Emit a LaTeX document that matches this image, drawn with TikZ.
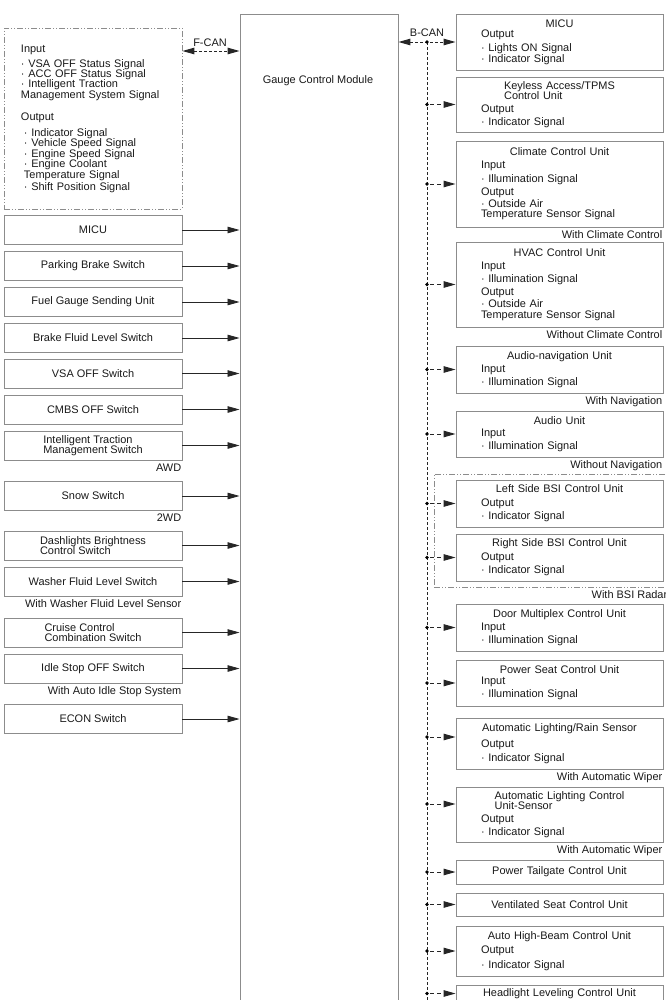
\documentclass[tikz,border=0pt]{standalone}
\usepackage{fontspec}
\setmainfont{Liberation Sans}
\usepackage{calc}
\usetikzlibrary{arrows.meta}

\newcommand\diagfont{\fontsize{11}{10.5}\selectfont}
\newcommand\ttl[2][2.5bp]{{\centering #2\par}\vspace{#1}}
\newcommand\ttltwo[2]{{\centering #1\\\makebox[\widthof{#1}][l]{#2}\par}\vspace{2.5bp}}

\begin{document}
\begin{tikzpicture}[x=1bp,y=-1bp,>={Triangle[length=12bp,width=6.5bp]},
  font=\diagfont,text=black!90,
  box/.style={draw=black!45,line width=0.9bp},
  lbox/.style={box,minimum width=178bp,minimum height=29bp,inner sep=1bp,align=left},
  rbox/.style={box,minimum width=207bp,text width=157bp,inner xsep=25bp,inner ysep=1bp,align=left},
  grpbox/.style={draw=black!45,line width=0.8bp,dash pattern=on 6bp off 2bp on 1bp off 2bp on 1bp off 2bp},
  cond/.style={anchor=north east,inner sep=1bp,yshift=-2bp},
  sig/.style={->,draw=black!85,line width=0.8bp},
  can/.style={<->,draw=black!85,line width=1bp,dash pattern=on 3bp off 2bp},
  bus/.style={draw=black!85,line width=1bp,dash pattern=on 3bp off 2bp},
  tap/.style={->,draw=black!85,line width=1bp,dash pattern=on 4bp off 3bp,dash phase=-3bp}]
  \useasboundingbox (0,0) rectangle (666,1000);
  \clip (0,0) rectangle (666,1000);

  \node[box,minimum width=158bp,minimum height=1100bp,anchor=north] (gcm) at (319,14) {};
  \node (gcmlbl) at (318,81) {Gauge Control Module};

  % F-CAN side
  \node[grpbox,minimum width=178bp,minimum height=181bp,text width=144bp,inner xsep=17bp,align=left] (fcanecu) at (93,118.5) {%
    Input\\[4.5bp]
    · VSA OFF Status Signal\\
    · ACC OFF Status Signal\\
    · Intelligent Traction\\
    Management System Signal\\[11.5bp]
    Output\\[5.5bp]
    \hspace*{3bp}· Indicator Signal\\
    \hspace*{3bp}· Vehicle Speed Signal\\
    \hspace*{3bp}· Engine Speed Signal\\
    \hspace*{3bp}· Engine Coolant\\
    \hspace*{3bp}Temperature Signal\\[1.5bp]
    \hspace*{3bp}· Shift Position Signal};
  \coordinate (fc) at (211,51);
  \draw[can] (fc -| fcanecu.east) -- (fc -| gcm.west);
  \node (fcanlbl) at (210,43) {F-CAN};

  % inputs on the left
  \node[lbox] (micu)   at (93,230)   {MICU};
  \node[lbox] (park)   at (93,266)   {Parking Brake Switch};
  \node[lbox] (fuel)   at (93,302)   {Fuel Gauge Sending Unit};
  \node[lbox] (brake)  at (93,338)   {Brake Fluid Level Switch};
  \node[lbox] (vsa)    at (93,373.5) {VSA OFF Switch};
  \node[lbox] (cmbs)   at (93,409.5) {CMBS OFF Switch};
  \node[lbox] (itm)    at (93,445.5) {Intelligent Traction\\Management Switch};
  \node[lbox] (snow)   at (93,496)   {Snow Switch};
  \node[lbox] (dimmer) at (93,545.5) {Dashlights Brightness\\Control Switch};
  \node[lbox] (washer) at (93,581.5) {Washer Fluid Level Switch};
  \node[lbox] (cruise) at (93,632.5) {Cruise Control\\Combination Switch};
  \node[lbox] (idle)   at (93,668.5) {Idle Stop OFF Switch};
  \node[lbox] (econ)   at (93,719)   {ECON Switch};
  \foreach \n in {micu,park,fuel,brake,vsa,cmbs,itm,snow,dimmer,washer,cruise,idle,econ}
    \draw[sig] (\n.east) -- (\n.east -| gcm.west);

  \node[cond] (awd)      at (itm.south east)    {AWD};
  \node[cond] (twowd)    at (snow.south east)   {2WD};
  \node[cond] (washcond) at (washer.south east) {With Washer Fluid Level Sensor};
  \node[cond] (idlecond) at (idle.south east)   {With Auto Idle Stop System};

  % B-CAN side
  \node[rbox,minimum height=56bp] (rmicu) at (559.5,42) {\ttl[0bp]{MICU}Output\\[4bp]· Lights ON Signal\\· Indicator Signal};
  \node[rbox,minimum height=55bp] (keyless) at (559.5,104.5) {\ttltwo{Keyless Access/TPMS}{Control Unit}Output\\[2.5bp]· Indicator Signal};
  \node[rbox,minimum height=86bp] (climate) at (559.5,184) {\ttl{Climate Control Unit}Input\\[3bp]· Illumination Signal\\[2.5bp]Output\\[1.5bp]· Outside Air\\Temperature Sensor Signal};
  \node[rbox,minimum height=85bp] (hvac) at (559.5,284.5) {\ttl{HVAC Control Unit}Input\\[3bp]· Illumination Signal\\[2.5bp]Output\\[1.5bp]· Outside Air\\Temperature Sensor Signal};
  \node[rbox,minimum height=47bp] (audnav) at (559.5,369.5) {\ttl{Audio-navigation Unit}Input\\[3bp]· Illumination Signal};
  \node[rbox,minimum height=46bp] (audio) at (559.5,434) {\ttl[1.5bp]{Audio Unit}Input\\[3bp]· Illumination Signal};
  \node[grpbox,minimum width=234bp,minimum height=113bp] (bsigrp) at (551,530.5) {};
  \node[rbox,minimum height=47bp] (lbsi) at (559.5,503.5) {\ttl[3bp]{Left Side BSI Control Unit}Output\\[3bp]· Indicator Signal};
  \node[rbox,minimum height=47bp] (rbsi) at (559.5,557.5) {\ttl[3bp]{Right Side BSI Control Unit}Output\\[3bp]· Indicator Signal};
  \node[rbox,minimum height=47bp] (door) at (559.5,627.5) {\ttl{Door Multiplex Control Unit}Input\\[2.5bp]· Illumination Signal};
  \node[rbox,minimum height=46bp] (pseat) at (559.5,683) {\ttl[0bp]{Power Seat Control Unit}Input\\[3bp]· Illumination Signal};
  \node[rbox,minimum height=51bp] (rain) at (559.5,743.5) {\ttl[6bp]{Automatic Lighting/Rain Sensor}Output\\[3bp]· Indicator Signal};
  \node[rbox,minimum height=55bp] (alc) at (559.5,814.5) {\ttltwo{Automatic Lighting Control}{Unit-Sensor}Output\\[2.5bp]· Indicator Signal};
  \node[rbox,minimum height=24bp] (tail) at (559.5,872) {\ttl[0bp]{Power Tailgate Control Unit}};
  \node[rbox,minimum height=23bp] (vent) at (559.5,904.5) {\ttl[0bp]{Ventilated Seat Control Unit}};
  \node[rbox,minimum height=50bp] (hibeam) at (559.5,951) {\ttl[3bp]{Auto High-Beam Control Unit}Output\\[4.5bp]· Indicator Signal};
  \node[rbox,minimum height=17bp] (hll) at (559.5,993.5) {\ttl[0bp]{Headlight Leveling Control Unit}};

  \node[cond] (climcond) at (climate.south east) {With Climate Control};
  \node[cond] (hvaccond) at (hvac.south east)    {Without Climate Control};
  \node[cond] (navcond)  at (audnav.south east)  {With Navigation};
  \node[cond] (audcond)  at (audio.south east)   {Without Navigation};
  \node[cond] (bsicond)  at (bsigrp.south east)  {With BSI Radar};
  \node[cond] (raincond) at (rain.south east)    {With Automatic Wiper};
  \node[cond] (alccond)  at (alc.south east)     {With Automatic Wiper};

  \coordinate (bc) at (427,42);
  \coordinate (busend) at (427,1000);
  \node (bcanlbl) at (427,33) {B-CAN};
  \draw[can] (bc -| gcm.east) -- (bc -| rmicu.west);
  \draw[bus] (bc) -- (busend);
  \fill (bc) circle[radius=1.8bp];
  \foreach \n in {keyless,climate,hvac,audnav,audio,lbsi,rbsi,door,pseat,tail,vent,hibeam,hll}{
    \draw[tap] (\n.west -| bc) -- (\n.west);
    \fill (\n.west -| bc) circle[radius=1.8bp];
  }
  \foreach \n/\d in {rain/6.5bp,alc/10.5bp}{
    \draw[tap] ([yshift=\d]\n.west -| bc) -- ([yshift=\d]\n.west);
    \fill ([yshift=\d]\n.west -| bc) circle[radius=1.8bp];
  }
\end{tikzpicture}
\end{document}
